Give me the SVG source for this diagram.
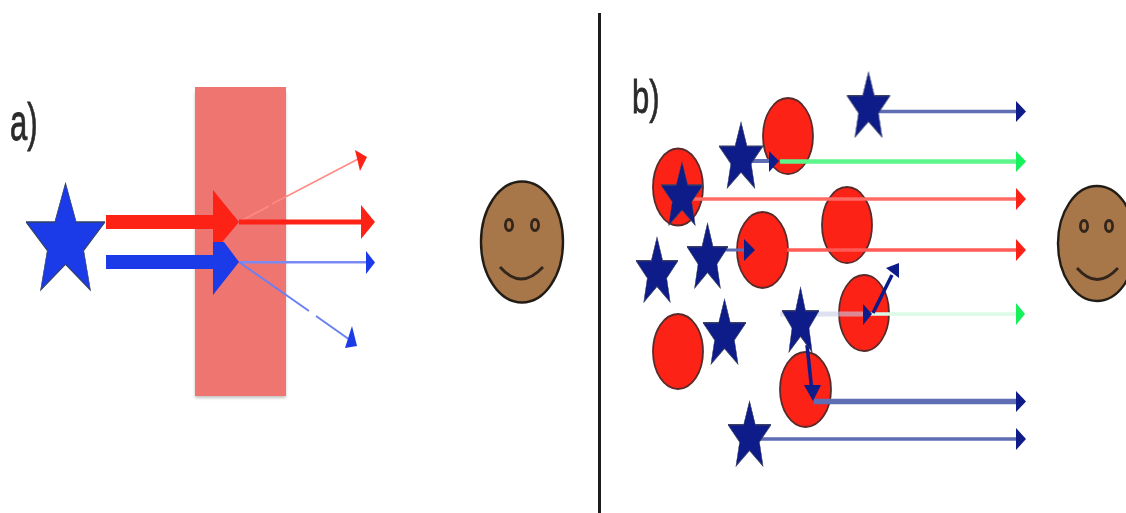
<svg xmlns="http://www.w3.org/2000/svg" xmlns:xlink="http://www.w3.org/1999/xlink" width="1126" height="513" viewBox="0 0 1126 513">
<style>
.nv{fill:#0a1a88;stroke:#3a3f66;stroke-width:.02}
.ci{fill:#fd2119;stroke:#5a2c2a;stroke-width:1.800}
.fc{fill:#a8774a;stroke:#241f18;stroke-width:2.400}
.ey{fill:none;stroke:#33261a;stroke-width:2.800}
.lb{font-family:"Liberation Sans",Arial,sans-serif;fill:#2a2a2a;stroke:#2a2a2a;stroke-width:.5}
.nl{stroke:#5f6db5;fill:none}
.hn{fill:#0a1a88}.hr{fill:#fd2119}.hg{fill:#14f05a}
</style>
<defs>
<filter id="b" x="-5%" y="-5%" width="110%" height="110%"><feGaussianBlur stdDeviation="0.65"/></filter>
<filter id="s" x="-20%" y="-20%" width="140%" height="140%"><feGaussianBlur stdDeviation="1.500"/></filter>
<path id="star" d="M0 0L.27 .365H1L.46 .63L.63 1L0 .76L-.63 1L-.46 .63L-1 .365H-.27Z"/>
</defs>
<rect width="1126" height="513" fill="#fff"/>
<g id="divider"><rect x="598" y="13" width="3" height="500" fill="#1c1c1c"/></g>
<g filter="url(#b)">
<g id="label-a"><text class="lb" transform="translate(10,140) scale(1,1.650)" font-size="31">a)</text></g>
<g id="label-b"><text class="lb" transform="translate(632,113) scale(1,1.500)" font-size="31">b)</text></g>
<g id="barrier"><rect x="195" y="92" width="91" height="306" fill="#888" opacity=".5" filter="url(#s)"/><rect x="195" y="87" width="91" height="309" fill="#ee7570"/></g>
<g id="source-star"><use xlink:href="#star" transform="translate(65.500,183) scale(39.500,107)" fill="#1a3ae8" stroke="#33415f" stroke-width=".015"/></g>
<g id="observer-a"><ellipse class="fc" cx="522" cy="242" rx="41" ry="60.500"/><ellipse class="ey" cx="509" cy="225" rx="3.600" ry="5.500"/><ellipse class="ey" cx="535" cy="225" rx="3.600" ry="5.500"/><path class="ey" d="M500 267Q521 291 543 267"/></g>
<g id="observer-b"><ellipse class="fc" cx="1097" cy="243.500" rx="39" ry="57.500"/><ellipse class="ey" cx="1084" cy="226" rx="3.600" ry="5.500"/><ellipse class="ey" cx="1109" cy="226" rx="3.600" ry="5.500"/><path class="ey" d="M1077 268Q1097 291 1118 268"/></g>
<g id="circles">
<ellipse class="ci" cx="788" cy="136" rx="25" ry="38"/>
<ellipse class="ci" cx="678" cy="187" rx="25" ry="38.500"/>
<ellipse class="ci" cx="762.500" cy="250" rx="25.500" ry="38"/>
<ellipse class="ci" cx="847" cy="225" rx="25" ry="38"/>
<ellipse class="ci" cx="864" cy="313" rx="25" ry="38"/>
<ellipse class="ci" cx="678" cy="351.500" rx="25" ry="37.500"/>
<ellipse class="ci" cx="805.500" cy="389.500" rx="25.500" ry="37.500"/>
</g>
<g id="connectors">
<path d="M239 222L269 206M272 204L360 158" stroke="#ff8a84" stroke-width="1.500" fill="none"/>
<polygon class="hr" points="355,150 367,157 360,171"/>
<rect x="239" y="219.500" width="124" height="5" fill="#fd2119"/>
<polygon class="hr" points="361,205 375,222 361,239"/>
<rect x="239" y="261" width="128" height="2.500" fill="#7a8af2"/>
<polygon fill="#1a3ae8" points="366,251 375,262.500 366,274"/>
<path d="M239 262L309 311M316 316L350 340" stroke="#6a80f2" stroke-width="2" fill="none"/>
<polygon fill="#1a3ae8" points="352,326 357,346 345,348"/>
<rect x="106" y="215" width="108" height="14" fill="#fd2119"/>
<polygon class="hr" points="213,190 239,222 213,253"/>
<rect x="106" y="255" width="108" height="14" fill="#1a3ae8"/>
<polygon fill="#1a3ae8" points="213,242 224,242 239,262 213,295"/>
<path class="nl" stroke-width="3.500" d="M878 111.500H1018"/><polygon class="hn" points="1016,101 1026,111.500 1016,122"/>
<path stroke="#5cf58a" stroke-width="4.500" d="M780 161.500H1018"/><polygon class="hg" points="1016,151 1026,161.500 1016,172"/>
<path class="nl" stroke-width="4" d="M750 161H772"/><polygon class="hn" points="769,151 779,161 769,172"/>
<path stroke="#ff6a65" stroke-width="3.500" d="M690 199H1018"/><polygon class="hr" points="1016,188 1026,199 1016,210"/>
<path stroke="#ff5a55" stroke-width="3.500" d="M787 250H1018"/><polygon class="hr" points="1016,239 1026,250 1016,261"/>
<path class="nl" stroke-width="3" d="M722 250H747"/><polygon class="hn" points="744,239 755,250 744,261"/>
<path stroke="#dcfae5" stroke-width="3.500" d="M868 314H1018"/><polygon class="hg" points="1016,303 1025,314 1016,325"/>
<path stroke="#c9cee4" stroke-width="5" opacity=".6" d="M780 314H866"/><polygon class="hn" points="863,304 872,314 863,325"/>
<path stroke="#0a1a88" stroke-width="3.500" fill="none" d="M873 313L892 275"/><polygon class="hn" points="886,268 899,263 899,278"/>
<path stroke="#0a1a88" stroke-width="3.500" fill="none" d="M807 345L812 392"/><polygon class="hn" points="804,385 821,385 813,401"/>
<path class="nl" stroke-width="5.500" d="M814 401.500H1018"/><polygon class="hn" points="1016,391 1026,401.500 1016,412"/>
<path class="nl" stroke-width="3.500" d="M760 439H1018"/><polygon class="hn" points="1016,428 1026,439 1016,450"/>
</g>
<g id="stars">
<use xlink:href="#star" class="nv" transform="translate(868.500,72) scale(21.500,65)"/>
<use xlink:href="#star" class="nv" transform="translate(741,122) scale(22,66)"/>
<use xlink:href="#star" class="nv" transform="translate(682,162) scale(21,63)"/>
<use xlink:href="#star" class="nv" transform="translate(707.500,223) scale(20.500,65)"/>
<use xlink:href="#star" class="nv" transform="translate(657,237) scale(21,65)"/>
<use xlink:href="#star" class="nv" transform="translate(724.500,299) scale(21.500,65)"/>
<use xlink:href="#star" class="nv" transform="translate(800.500,287) scale(18.500,65)"/>
<use xlink:href="#star" class="nv" transform="translate(749.500,401) scale(21.500,65)"/>
</g>
</g>
</svg>
